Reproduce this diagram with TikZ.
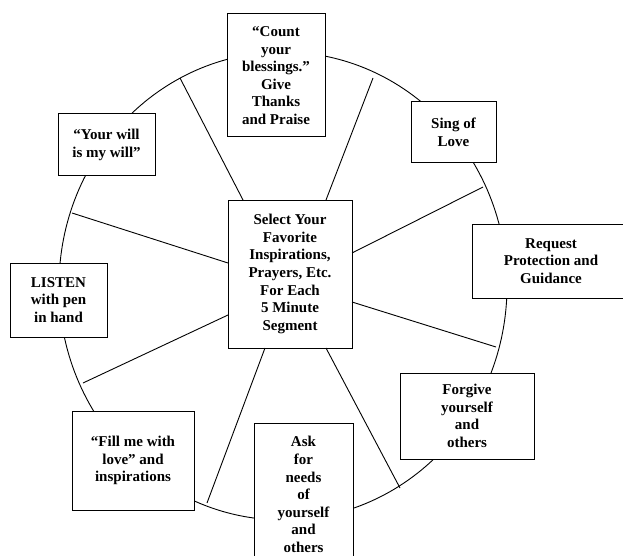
\documentclass[tikz,border=0pt]{standalone}
\usepackage{fontspec}
\setmainfont{Liberation Serif}
\begin{document}
\begin{tikzpicture}[x=1pt,y=-1pt,
  box/.style={draw,line width=1pt,fill=white,rectangle,inner sep=0pt,outer sep=0pt,align=center,
    font=\bfseries\fontsize{15}{17.6}\selectfont},
  spoke/.style={line width=0.9pt}]
\useasboundingbox (0,0) rectangle (623,556);
% outer ring
\draw[line width=0.9pt] (283,286) ellipse [x radius=224pt, y radius=234pt];
% outer spoke ends
\coordinate (o1) at (180,78);
\coordinate (o2) at (373,78);
\coordinate (o3) at (483,187);
\coordinate (o4) at (496,347);
\coordinate (o5) at (400,488);
\coordinate (o6) at (207,503);
\coordinate (o7) at (83,383);
\coordinate (o8) at (72,213);
% centre
\node[box,minimum width=124pt,minimum height=148pt] (c) at (290,274)
  {Select Your\\Favorite\\Inspirations,\\Prayers, Etc.\\For Each\\5 Minute\\Segment};
\draw[spoke] ([xshift=15pt]c.north west) -- (o1);
\draw[spoke] ([xshift=-26pt]c.north east) -- (o2);
\draw[spoke] ([yshift=-53pt]c.north east) -- (o3);
\draw[spoke] ([yshift=46pt]c.south east) -- (o4);
\draw[spoke] ([xshift=-26pt]c.south east) -- (o5);
\draw[spoke] ([xshift=37pt]c.south west) -- (o6);
\draw[spoke] ([yshift=33pt]c.south west) -- (o7);
\draw[spoke] ([yshift=-63pt]c.north west) -- (o8);
% boxes on the ring
\node[box,minimum width=98pt,minimum height=123pt] (bless) at (276,75.5)
  {``Count\\your\\blessings.''\\Give\\Thanks\\and Praise};
\node[box,minimum width=97pt,minimum height=62pt] (will) at (106.5,145)
  {``Your will\\is my will''};
\node[box,minimum width=85pt,minimum height=61pt] (sing) at (453.5,132.5)
  {Sing of\\Love};
\node[box,minimum width=158pt,minimum height=74pt] (req) at (551,261)
  {Request\\Protection and\\Guidance};
\node[box,minimum width=97pt,minimum height=74pt] (listen) at (58.5,300)
  {LISTEN\\with pen\\in hand};
\node[box,minimum width=122pt,minimum height=99pt] (fill) at (133,460.5)
  {``Fill me with\\love'' and\\inspirations};
\node[box,minimum width=99pt,minimum height=143pt] (ask) at (303.5,494.5)
  {Ask\\for\\needs\\of\\yourself\\and\\others};
\node[box,minimum width=134pt,minimum height=86pt] (forgive) at (467,416)
  {Forgive\\yourself\\and\\others};
\end{tikzpicture}
\end{document}
